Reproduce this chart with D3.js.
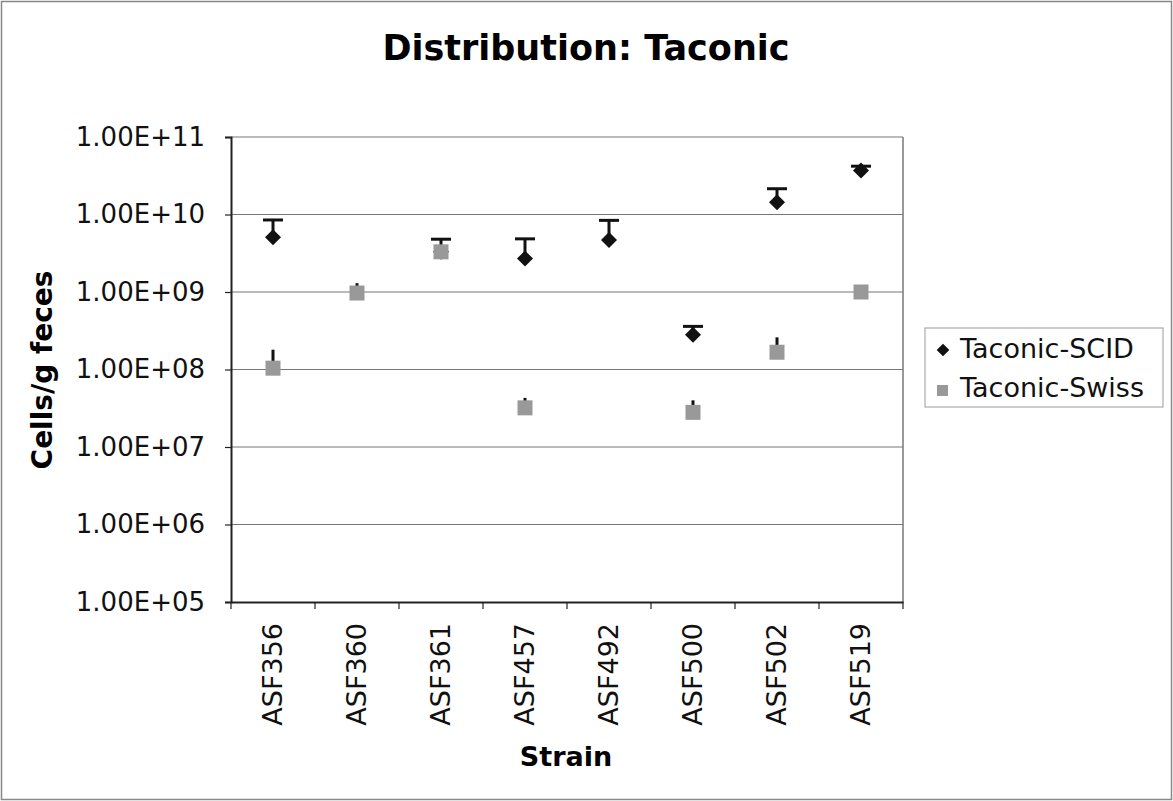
<!doctype html>
<meta charset="utf-8" />
<style>
    body { margin: 0; background: #fff; }
    svg, svg text { font-family: "DejaVu Sans", Verdana, sans-serif; }
    svg { display: block; }
</style>
<svg></svg>

<script src="https://cdn.jsdelivr.net/npm/d3@7"></script>

<script>
    // data
    var strains = ['ASF356', 'ASF360', 'ASF361', 'ASF457', 'ASF492', 'ASF500', 'ASF502', 'ASF519'];
    var scidMean = [5.1e9, null, 3.3e9, 2.7e9, 4.7e9, 2.8e8, 1.44e10, 3.7e10];
    var scidUpper = [8.5e9, null, 4.8e9, 4.85e9, 8.4e9, 3.6e8, 2.15e10, 4.2e10];
    var swissMean = [1.04e8, 9.7e8, 3.3e9, 3.2e7, null, 2.8e7, 1.67e8, 1.0e9];
    var swissUpper = [1.8e8, 1.3e9, 3.4e9, 4.3e7, null, 4.0e7, 2.6e8, 1.0e9];
    var yTicks = [1e5, 1e6, 1e7, 1e8, 1e9, 1e10, 1e11];
    var seriesNames = ['Taconic-SCID', 'Taconic-Swiss'];

    var W = 1173, H = 801;
    var svg = d3.select('svg')
        .attr('width', W)
        .attr('height', H)

    // outer border
    svg.append('rect')
        .attr('x', 1.5).attr('y', 1.5)
        .attr('width', W - 3).attr('height', H - 3)
        .style('fill', '#fff')
        .style('stroke', '#888')
        .style('stroke-width', 1.5)

    var pLeft = 231, pRight = 903, pTop = 137, pBottom = 602;

    var x = d3.scaleBand().domain(strains).range([pLeft, pRight]);
    var y = d3.scaleLog().domain([1e5, 1e11]).range([pBottom, pTop]);

    // gridlines
    svg.append('g').selectAll('line')
        .data(yTicks.slice(1))
        .enter().append('line')
        .attr('x1', pLeft).attr('x2', pRight)
        .attr('y1', d => y(d)).attr('y2', d => y(d))
        .style('stroke', '#777')
        .style('stroke-width', 1.2)

    // right border of plot area
    svg.append('line')
        .attr('x1', pRight).attr('x2', pRight)
        .attr('y1', pTop).attr('y2', pBottom)
        .style('stroke', '#777')
        .style('stroke-width', 1.5)

    // y axis
    var yAxis = svg.append('g')
        .attr('transform', 'translate(' + pLeft + ',0)')
        .call(d3.axisLeft(y).tickValues(yTicks).tickSize(6).tickPadding(20)
            .tickFormat(d => '1.00E+' + String(Math.round(Math.log10(d))).padStart(2, '0')))
    yAxis.select('.domain').style('stroke', '#222').style('stroke-width', 2)
    yAxis.selectAll('.tick line').style('stroke', '#222').style('stroke-width', 1.2)
    yAxis.selectAll('text').style('font-size', '26px').style('fill', '#111')

    // x axis
    var xAxis = svg.append('g')
        .attr('transform', 'translate(0,' + pBottom + ')')
        .call(d3.axisBottom(x).tickSize(0).tickPadding(0))
    xAxis.select('.domain').style('stroke', '#222').style('stroke-width', 2)
    xAxis.selectAll('text')
        .style('font-size', '27px').style('fill', '#111')
        .attr('text-anchor', 'end')
        .attr('dy', '0.35em')
        .attr('transform', 'translate(0,21) rotate(-90)')
        .attr('y', 0).attr('x', 0)
    // boundary ticks
    svg.append('g').selectAll('line')
        .data(d3.range(strains.length + 1))
        .enter().append('line')
        .attr('x1', i => pLeft + i * x.bandwidth())
        .attr('x2', i => pLeft + i * x.bandwidth())
        .attr('y1', pBottom).attr('y2', pBottom + 7)
        .style('stroke', '#222')
        .style('stroke-width', 1.2)

    var cx = d => x(d) + x.bandwidth() / 2;

    var scid = strains.map((s, i) => ({ s: s, m: scidMean[i], u: scidUpper[i] })).filter(d => d.m != null);
    var swiss = strains.map((s, i) => ({ s: s, m: swissMean[i], u: swissUpper[i] })).filter(d => d.m != null);

    // SCID error bars with caps
    var eb = svg.append('g');
    eb.selectAll('.v').data(scid).enter().append('line')
        .attr('x1', d => cx(d.s)).attr('x2', d => cx(d.s))
        .attr('y1', d => y(d.m)).attr('y2', d => y(d.u))
        .style('stroke', '#111').style('stroke-width', 3)
    eb.selectAll('.c').data(scid).enter().append('line')
        .attr('x1', d => cx(d.s) - 10).attr('x2', d => cx(d.s) + 10)
        .attr('y1', d => y(d.u)).attr('y2', d => y(d.u))
        .style('stroke', '#111').style('stroke-width', 3)

    var diamond = d3.symbol().type(d3.symbolSquare).size(128);

    svg.append('g').selectAll('path')
        .data(scid).enter().append('path')
        .attr('d', diamond)
        .attr('transform', d => 'translate(' + cx(d.s) + ',' + y(d.m) + ') rotate(45)')
        .style('fill', '#111')

    // Swiss error bars (no caps)
    svg.append('g').selectAll('line')
        .data(swiss.filter(d => d.u > d.m)).enter().append('line')
        .attr('x1', d => cx(d.s)).attr('x2', d => cx(d.s))
        .attr('y1', d => y(d.m)).attr('y2', d => y(d.u))
        .style('stroke', '#111').style('stroke-width', 3)

    svg.append('g').selectAll('rect')
        .data(swiss).enter().append('rect')
        .attr('x', d => cx(d.s) - 7.5).attr('y', d => y(d.m) - 7.5)
        .attr('width', 15).attr('height', 15)
        .style('fill', '#999')

    // titles
    svg.append('text')
        .attr('x', 586).attr('y', 60)
        .attr('text-anchor', 'middle')
        .style('font-size', '35px').style('font-weight', 'bold')
        .text('Distribution: Taconic')

    svg.append('text')
        .attr('x', 566).attr('y', 766)
        .attr('text-anchor', 'middle')
        .style('font-size', '27px').style('font-weight', 'bold')
        .text('Strain')

    svg.append('text')
        .attr('transform', 'translate(52,370) rotate(-90)')
        .attr('text-anchor', 'middle')
        .style('font-size', '28px').style('font-weight', 'bold')
        .text('Cells/g feces')

    // legend
    var lg = svg.append('g');
    lg.append('rect')
        .attr('x', 925).attr('y', 328)
        .attr('width', 238).attr('height', 79)
        .style('fill', '#fff').style('stroke', '#999').style('stroke-width', 1)
    lg.append('path')
        .attr('d', d3.symbol().type(d3.symbolSquare).size(80))
        .attr('transform', 'translate(943,350) rotate(45)')
        .style('fill', '#111')
    lg.append('rect')
        .attr('x', 937).attr('y', 385).attr('width', 11).attr('height', 11)
        .style('fill', '#999')
    lg.selectAll('text').data(seriesNames).enter().append('text')
        .attr('x', 960).attr('y', (d, i) => 358 + i * 39)
        .style('font-size', '27px').style('fill', '#111')
        .text(d => d)
</script>
